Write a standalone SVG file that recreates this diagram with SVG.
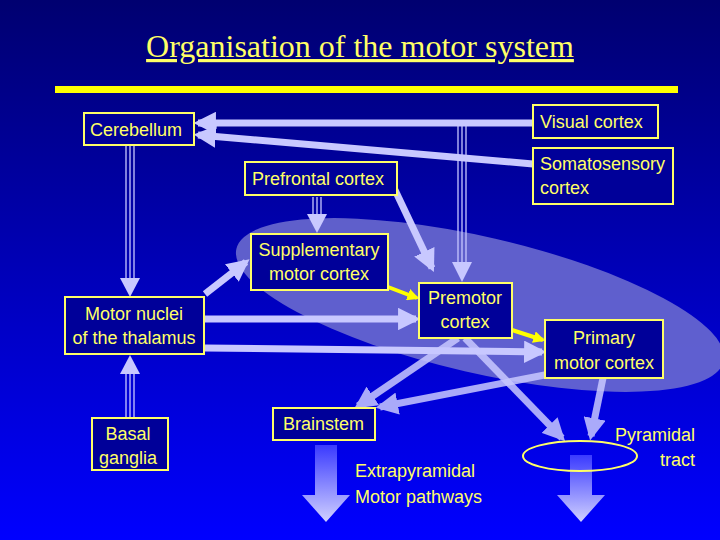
<svg xmlns="http://www.w3.org/2000/svg" width="720" height="540" viewBox="0 0 720 540">
<defs>
<linearGradient id="bg" x1="0" y1="0" x2="0" y2="1"><stop offset="0" stop-color="#000070"/><stop offset="1" stop-color="#0000ff"/></linearGradient>
<linearGradient id="dn" x1="0" y1="0" x2="0" y2="1"><stop offset="0" stop-color="#3a3aff"/><stop offset="1" stop-color="#d0d0ff"/></linearGradient>
<marker id="ah" viewBox="0 0 10 10" refX="8" refY="5" markerWidth="3.2" markerHeight="3.2" orient="auto" markerUnits="strokeWidth"><path d="M0,0 L10,5 L0,10 z" fill="#c8c8ff"/></marker>
<marker id="ay" viewBox="0 0 10 10" refX="8" refY="5" markerWidth="3" markerHeight="3" orient="auto" markerUnits="strokeWidth"><path d="M0,0 L10,5 L0,10 z" fill="#ffff00"/></marker>
</defs>
<style>
.b{fill:#000099;stroke:#ffff66;stroke-width:2}
.t{font-family:"Liberation Sans",Arial,sans-serif;font-size:18px;fill:#ffff66}
.a{stroke:#c8c8ff;stroke-width:7;fill:none;marker-end:url(#ah)}
.y{stroke:#ffff00;stroke-width:4;fill:none;marker-end:url(#ay)}
.tl{stroke:#c8c8ff;stroke-width:1.3}
.th{fill:#c8c8ff}
</style>
<rect width="720" height="540" fill="url(#bg)"/>
<ellipse cx="480" cy="305" rx="250" ry="68" transform="rotate(13 480 305)" fill="#7070d0" opacity="0.85"/>
<text x="360" y="57" text-anchor="middle" font-family="Liberation Serif,serif" font-size="32" fill="#ffff66" text-decoration="underline">Organisation of the motor system</text>
<rect x="55" y="86" width="623" height="7" fill="#ffff00"/>
<g id="connectors">
<line class="a" x1="533" y1="123" x2="198" y2="123"/>
<line class="a" x1="533" y1="164" x2="198" y2="135"/>
<g><line class="tl" x1="458" y1="126" x2="458" y2="265"/><line class="tl" x1="462" y1="126" x2="462" y2="265"/><line class="tl" x1="466" y1="126" x2="466" y2="265"/><polygon class="th" points="452,262 472,262 462,282"/></g>
<g><line class="tl" x1="126" y1="146" x2="126" y2="280"/><line class="tl" x1="130" y1="146" x2="130" y2="280"/><line class="tl" x1="134" y1="146" x2="134" y2="280"/><polygon class="th" points="120,278 140,278 130,297"/></g>
<g><line class="tl" x1="126" y1="372" x2="126" y2="418"/><line class="tl" x1="130" y1="372" x2="130" y2="418"/><line class="tl" x1="134" y1="372" x2="134" y2="418"/><polygon class="th" points="120,374 140,374 130,355"/></g>
<g><line class="tl" x1="313" y1="197" x2="313" y2="216"/><line class="tl" x1="317" y1="197" x2="317" y2="216"/><line class="tl" x1="321" y1="197" x2="321" y2="216"/><polygon class="th" points="307,214 327,214 317,233"/></g>
<line class="a" x1="395" y1="190" x2="432" y2="268"/>
<line class="a" x1="205" y1="294" x2="246" y2="262"/>
<line class="a" x1="205" y1="319" x2="416" y2="319"/>
<line class="a" x1="205" y1="348" x2="542" y2="352"/>
<line class="y" x1="388" y1="287" x2="417" y2="298"/>
<line class="y" x1="512" y1="330" x2="543" y2="340"/>
<line class="a" x1="458" y1="338" x2="358" y2="406" opacity="0.85"/>
<line class="a" x1="465" y1="338" x2="562" y2="438" opacity="0.85"/>
<line class="a" x1="560" y1="372" x2="380" y2="407" opacity="0.85"/>
<line class="a" x1="603" y1="378" x2="591" y2="436" opacity="0.85"/>
<polygon points="315,445 337,445 337,495 350,495 326,522 302,495 315,495" fill="url(#dn)"/>
<polygon points="570,455 592,455 592,495 605,495 581,522 557,495 570,495" fill="url(#dn)"/>
</g>
<g id="cerebellum"><rect class="b" x="84" y="113" width="110" height="32"/><text class="t" x="90" y="136">Cerebellum</text></g>
<g id="visual"><rect class="b" x="533" y="105" width="125" height="33"/><text class="t" x="540" y="128">Visual cortex</text></g>
<g id="somato"><rect class="b" x="533" y="148" width="140" height="56"/><text class="t" x="540" y="170">Somatosensory</text><text class="t" x="540" y="194">cortex</text></g>
<g id="prefrontal"><rect class="b" x="245" y="162" width="152" height="33"/><text class="t" x="252" y="185">Prefrontal cortex</text></g>
<g id="sma"><rect class="b" x="251" y="234" width="137" height="56"/><text class="t" x="319" y="256" text-anchor="middle">Supplementary</text><text class="t" x="319" y="280" text-anchor="middle">motor cortex</text></g>
<g id="premotor"><rect class="b" x="419" y="283" width="93" height="55"/><text class="t" x="465" y="304" text-anchor="middle">Premotor</text><text class="t" x="465" y="328" text-anchor="middle">cortex</text></g>
<g id="thalamus"><rect class="b" x="65" y="297" width="139" height="57"/><text class="t" x="134" y="320" text-anchor="middle">Motor nuclei</text><text class="t" x="134" y="344" text-anchor="middle">of the thalamus</text></g>
<g id="primary"><rect class="b" x="545" y="320" width="118" height="58"/><text class="t" x="604" y="344" text-anchor="middle">Primary</text><text class="t" x="604" y="369" text-anchor="middle">motor cortex</text></g>
<g id="basal"><rect class="b" x="92" y="418" width="76" height="52"/><text class="t" x="128" y="440" text-anchor="middle">Basal</text><text class="t" x="128" y="464" text-anchor="middle">ganglia</text></g>
<g id="brainstem"><rect class="b" x="273" y="408" width="102" height="32"/><text class="t" x="283" y="430">Brainstem</text></g>
<g id="extrapyramidal"><text class="t" x="355" y="477">Extrapyramidal</text><text class="t" x="355" y="503">Motor pathways</text></g>
<g id="pyramidal"><ellipse cx="580" cy="456" rx="57" ry="15" fill="none" stroke="#ffff66" stroke-width="2"/><text class="t" x="695" y="441" text-anchor="end">Pyramidal</text><text class="t" x="695" y="466" text-anchor="end">tract</text></g>
</svg>
